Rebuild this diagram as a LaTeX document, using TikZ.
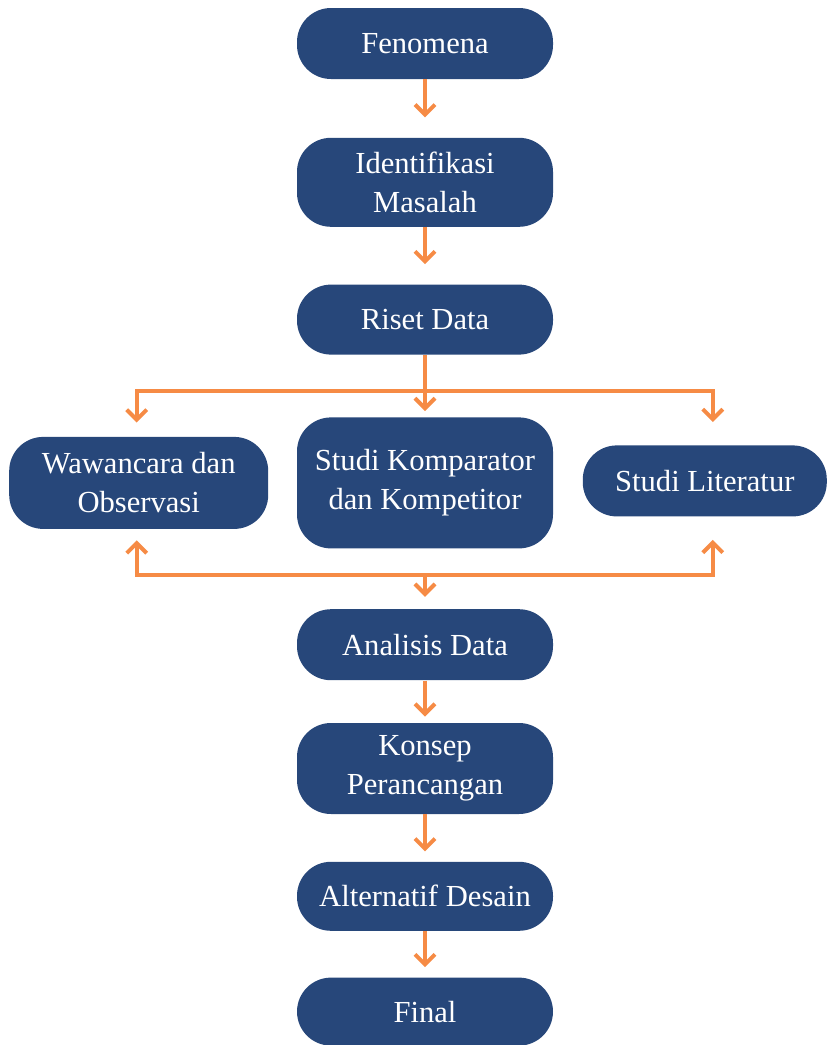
\documentclass[tikz,border=0pt]{standalone}
\usepackage{fontspec}
\setmainfont{Liberation Serif}
\usepackage{xcolor}
\usepackage{tikz}
\usetikzlibrary{positioning,arrows.meta,calc}
\definecolor{navy}{HTML}{27477A}
\definecolor{tang}{HTML}{F68B45}
\tikzset{
  stage/.style={rectangle,fill=navy,text=white,rounded corners=17pt,
    align=center,inner sep=3pt,font=\fontsize{15.3}{19.5}\selectfont,
    minimum width=128pt},
  fl/.style={-{Straight Barb[length=5pt,width=10pt]},draw=tang,line width=2pt},
}
\begin{document}
\begin{tikzpicture}
  \useasboundingbox (0,0) rectangle (414.5pt,-522.5pt);
  \node[stage,minimum height=35.5pt] (fen) at (212.5pt,-21.75pt) {Fenomena};
  \node[stage,minimum height=44.5pt,below=29pt of fen] (iden) {Identifikasi\\Masalah};
  \node[stage,minimum height=35pt,below=28.5pt of iden] (riset) {Riset Data};
  \node[stage,minimum height=65.5pt,below=31pt of riset] (komp) {Studi Komparator\\dan Kompetitor};
  \node[stage,minimum height=46pt,minimum width=129.5pt,left=14pt of komp] (waw) {Wawancara dan\\Observasi};
  \node[stage,minimum height=35.5pt,minimum width=122pt,right=14.5pt of komp,yshift=1pt] (lit) {Studi Literatur};
  \node[stage,minimum height=35.5pt,below=30pt of komp] (anal) {Analisis Data};
  \node[stage,minimum height=45.5pt,below=21pt of anal] (kons) {Konsep\\Perancangan};
  \node[stage,minimum height=34.5pt,below=23.5pt of kons] (alt) {Alternatif Desain};
  \node[stage,minimum height=34pt,below=23pt of alt] (fin) {Final};
  \coordinate (split) at ([yshift=-18pt]riset.south);
  \coordinate (join) at ([yshift=17pt]anal.north);
  \draw[fl,shorten >=10pt] (fen) -- (iden);
  \draw[fl,shorten >=10pt] (iden) -- (riset);
  \draw[fl,-] (riset) -- (split);
  \draw[fl,shorten >=3pt] (split) -- (komp);
  \draw[fl,shorten >=7pt] (split) -| ([xshift=-1pt]waw.north);
  \draw[fl,shorten >=11.5pt] (split) -| ([xshift=4pt]lit.north);
  \draw[fl,shorten >=5.5pt] (join) -| ([xshift=-1pt]waw.south);
  \draw[fl,shorten >=11.5pt] (join) -| ([xshift=4pt]lit.south);
  \draw[fl,shorten >=6pt] (join) -- (anal);
  \draw[fl,shorten >=3pt] (anal) -- (kons);
  \draw[fl,shorten >=5pt] (kons) -- (alt);
  \draw[fl,shorten >=5pt] (alt) -- (fin);
\end{tikzpicture}
\end{document}
